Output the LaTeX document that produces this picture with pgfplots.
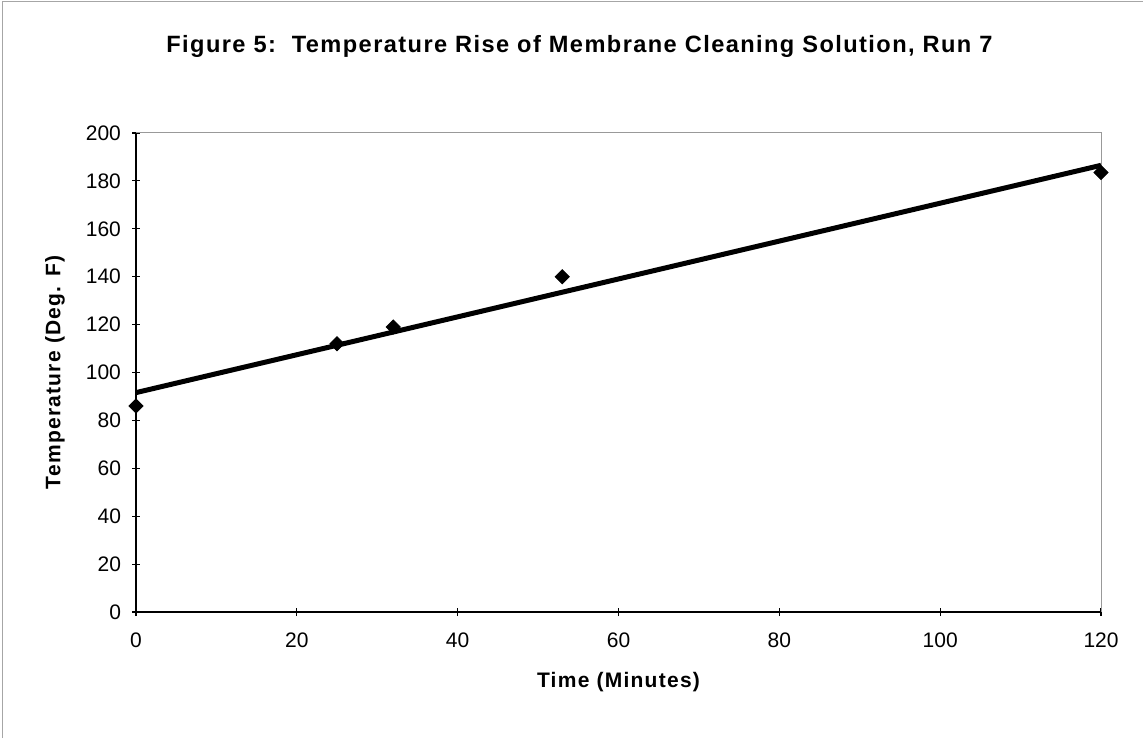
\documentclass[border=0pt]{standalone}
\usepackage{pgfplots}
\pgfplotsset{compat=1.18}
\usepackage{fontspec}
\setmainfont{Liberation Sans}
\begin{document}
\begin{tikzpicture}
\useasboundingbox (0,0) rectangle (571.5pt,369pt);
\draw[gray!70, line width=0.4pt] (1pt,0) -- (1pt,368.5pt) -- (571.5pt,368.5pt);
\node[font=\bfseries\fontsize{11.8}{14}\selectfont\addfontfeature{LetterSpace=6}] at (289.7pt,346pt) {Figure 5:\ \ Temperature Rise of Membrane Cleaning Solution, Run 7};
\begin{axis}[
  at={(68pt,63pt)}, anchor=south west,
  scale only axis, width=482.5pt, height=239.5pt,
  xmin=0, xmax=120, ymin=0, ymax=200,
  xtick={0,20,...,120}, ytick={0,20,...,200},
  axis x line*=bottom, axis y line*=left,
  axis line style={line width=1pt, -},
  tick align=center, major tick length=4pt,
  tick style={line width=0.6pt, black},
  /pgf/number format/assume math mode=true,
  ticklabel style={font=\fontsize{10.5}{12}\selectfont},
  xticklabel shift=5pt, yticklabel shift=2pt,
  xlabel={Time (Minutes)}, ylabel={Temperature (Deg. F)},
  label style={font=\bfseries\fontsize{10.5}{12}\selectfont\addfontfeature{LetterSpace=6}},
  xlabel style={at={(axis description cs:0.5,-0.146)}, anchor=center},
  ylabel style={at={(axis description cs:-0.084,0.5)}, anchor=center},
  clip=false,
]
\draw[gray!80, line width=0.5pt] (axis cs:0,200) -- (axis cs:120,200) -- (axis cs:120,0);
\addplot[black, line width=2.5pt, no marks] coordinates {(0,91.6) (120,186.5)};
\addplot[only marks, mark=square*, mark size=2.5pt, mark options={rotate=45}, black] coordinates {
(0,86) (25,112) (32,119) (53,140) (120,183.5)};
\end{axis}
\end{tikzpicture}
\end{document}
